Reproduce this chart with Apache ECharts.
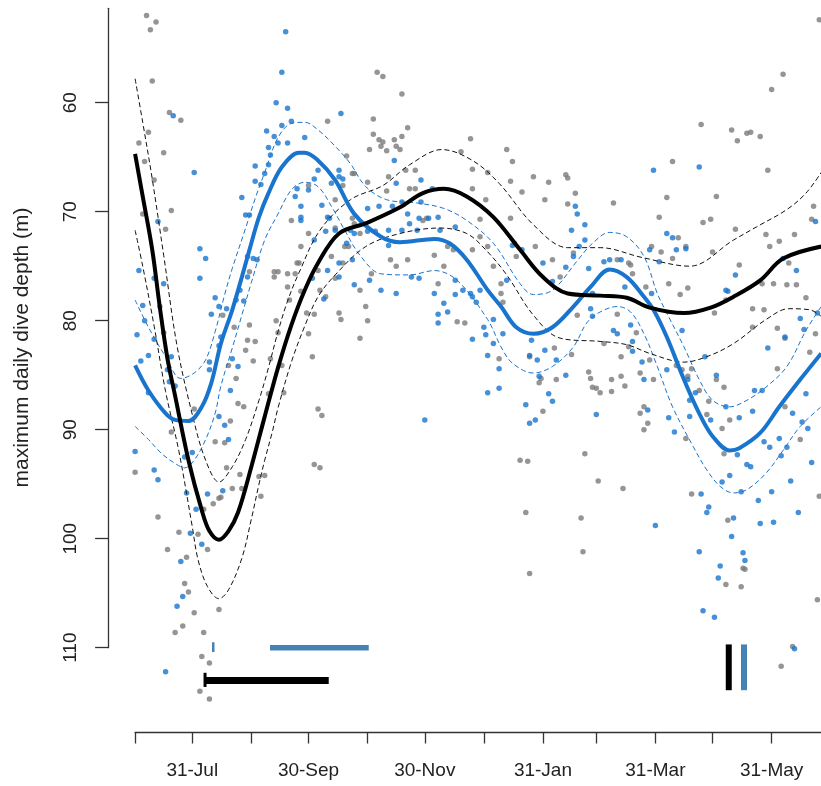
<!DOCTYPE html>
<html><head><meta charset="utf-8">
<script src="https://cdn.jsdelivr.net/npm/echarts@6/dist/echarts.min.js"></script>
<style>html,body{margin:0;padding:0;background:#fff}#c{width:821px;height:786px}</style>
</head><body><div id="c"></div>
<script>
// x = days since 30 June, y = maximum daily dive depth (m)
const tickDays = [1,31,62,92,123,153,184,215,243,274,304,335];
const labelDays = [31,92,153,215,274,335];
const labelNames = ['31-Jul','30-Sep','30-Nov','31-Jan','31-Mar','31-May'];
const yTicks = [60,70,80,90,100,110];

const grayPts = [[7,52.0],[9,53.3],[12,52.6],[10,58.0],[19,60.9],[25,61.6],[8,62.7],[3,63.7],[6,65.4],[11,67.1],[16,64.6],[20,69.9],[17,71.6],[5,70.2],[102,61.7],[112,64.9],[83,70.8],[88,73.2],[87,74.7],[92,72.0],[97,75.4],[106,71.5],[110,67.6],[115,70.6],[92,67.6],[106,68.9],[74,75.5],[81,75.7],[85,75.7],[104,74.1],[111,73.2],[115,66.5],
[14,78.7],[1,93.9],[13,98.0],[18,101.0],[24,99.4],[28,101.7],[27,104.1],[29,104.9],[32,106.8],[22,108.6],[26,108.0],[37,108.6],[45,106.5],[36,110.8],[40,111.4],[35,114.0],[40,114.7],[39,101.0],[34,99.6],[37,97.3],[42,96.8],[45,96.3],[46,96.2],[49,93.5],[52,95.4],[57,95.4],[56,94.1],[66,94.3],[69,94.2],[67,96.1],[43,91.1],[48,91.2],[51,89.2],[55,87.6],[58,87.9],[32,88.1],[20,90.2],[54,85.3],[50,84.1],[63,83.7],[59,82.7],[60,81.8],[64,81.9],[61,80.4],[53,80.6],[47,79.5],[72,83.5],[79,86.6],[71,86.7],[78,84.1],[76,81.1],[75,80.0],[82,78.1],[88,77.3],[81,76.9],[74,76.0],[76,75.5],[86,74.7],[91,79.3],[92,81.2],[94,83.3],[97,88.1],[99,88.7],[95,93.2],[98,93.5],[108,79.3],[109,79.9],[101,77.8],[106,76.1],[61,75.5],
[128,57.2],[131,57.6],[141,59.2],[126,61.5],[144,62.3],[124,64.3],[126,62.9],[129,63.4],[131,63.6],[130,64.0],[137,63.4],[141,63.1],[138,64.0],[133,64.4],[140,64.3],[116,66.5],[123,67.3],[134,66.8],[148,66.2],[143,66.2],[133,68.1],[145,67.9],[148,67.9],[154,70.6],[152,70.8],[172,64.5],[177,63.3],[196,64.3],[199,65.4],[178,66.1],[186,66.4],[198,67.2],[185,68.9],[182,70.7],[178,67.9],[204,68.2],[210,66.8],[218,67.3],[227,66.6],[228,66.9],[232,68.3],[216,68.9],[228,69.3],[252,69.2],[283,65.4],[298,62.0],[314,62.5],[317,63.5],[322,62.8],[324,62.7],[329,63.1],[333,66.2],[335,58.8],[341,57.4],[360,52.4],[280,68.7],[276,70.5],[306,68.6],[299,71.0],[303,70.7],[316,71.6],[332,72.1],[334,73.2],[339,72.7],[347,72.1],[357,69.5],[356,70.7],[286,72.4],[290,73.2],[283,74.3],[277,73.7],[272,73.2],[261,74.9],[262,75.7],[304,73.7],[318,74.9],[344,74.7],
[116,71.1],[119,72.0],[113,73.2],[110,74.7],[98,77.2],[119,77.2],[125,75.7],[135,74.4],[138,75.0],[144,74.4],[158,74.0],[163,75.0],[165,73.2],[168,73.5],[178,73.5],[182,72.3],[186,73.2],[189,75.0],[193,76.6],[198,70.6],[200,72.9],[201,74.1],[211,73.2],[220,74.4],[224,76.0],[231,73.8],[254,74.4],[260,74.7],[269,76.9],[281,76.6],[291,77.0],[287,77.6],[330,76.6],[336,76.6],[343,76.7],[348,76.7],[353,77.9],[311,78.1],
[122,78.7],[119,81.6],[123,80.0],[95,79.4],[160,76.6],[170,80.1],[174,80.2],[193,77.5],[194,78.3],[192,83.5],[208,83.3],[214,85.3],[213,85.7],[222,85.4],[215,88.3],[221,82.5],[230,83.1],[233,79.5],[239,84.7],[240,85.3],[241,86.1],[243,86.2],[245,86.6],[251,85.4],[251,86.5],[256,85.1],[258,86.0],[256,83.3],[247,82.1],[254,79.4],[260,82.4],[266,84.8],[268,87.9],[266,88.5],[270,89.4],[268,90.0],[271,83.6],[273,85.4],[264,81.1],[285,84.1],[291,85.1],[288,84.5],[293,84.4],[297,86.4],[302,87.4],[306,85.4],[310,86.1],[305,79.3],[313,89.1],[309,89.9],[301,88.6],[290,90.8],[310,92.2],[325,78.9],[331,79.0],[325,80.6],[338,80.7],[342,81.6],[338,84.4],[342,87.9],[350,90.9],[355,82.9],[358,81.2],[360,96.1],[203,92.8],[207,92.9],[237,92.2],[244,94.7],[257,95.4],[206,97.6],[235,98.1],[236,101.2],[208,103.2],[312,98.3],[320,102.7],[293,95.9],[311,104.2],[319,104.4],[321,102.8],[346,109.9],[340,111.7],[359,105.6]];

const bluePts = [[21,61.2],[32,66.4],[13,70.9],[3,75.4],[35,73.4],[38,74.3],[80,53.5],[78,57.2],[75,60.0],[81,60.5],[83,61.7],[78,62.1],[70,62.6],[74,63.1],[76,63.7],[81,63.7],[71,64.1],[90,63.2],[72,64.8],[64,65.8],[69,66.5],[64,67.2],[67,67.5],[71,65.7],[57,68.7],[59,70.3],[61,70.3],[60,74.1],[63,74.3],[97,66.2],[108,66.2],[109,61.0],[86,67.9],[85,68.6],[88,69.5],[88,70.5],[102,70.5],[99,69.4],[108,66.8],[110,67.0],[104,67.4],[92,68.0],[101,71.8],[102,75.4],[108,74.7],[112,72.9],[115,74.4],[116,72.0],[94,76.1],[35,76.1],[11,76.1],
[2,81.3],[5,78.6],[6,80.0],[11,81.7],[8,83.2],[4,83.7],[8,86.6],[16,81.1],[16,76.6],[18,84.5],[19,85.6],[22,86.0],[20,83.3],[1,92.0],[11,93.7],[13,94.6],[27,92.5],[31,92.1],[28,95.8],[33,97.3],[39,95.9],[47,95.6],[36,100.5],[30,99.5],[25,102.1],[26,105.3],[23,106.2],[17,112.2],[40,83.8],[45,82.3],[43,77.9],[41,79.4],[45,78.7],[54,78.1],[56,77.2],[58,78.2],[52,83.5],[55,84.2],[51,86.4],[45,88.8],[48,89.6],[50,90.9],[40,84.5],[46,81.5],[49,78.9],[60,76.0],[65,74.4],[100,78.0],
[95,67.0],[137,65.3],[151,67.1],[138,67.4],[123,69.7],[129,69.5],[136,69.5],[141,69.1],[144,70.2],[145,71.1],[150,70.6],[155,70.6],[160,70.5],[151,69.1],[157,67.9],[169,71.4],[161,71.7],[149,71.7],[141,71.7],[134,71.7],[127,71.8],[123,71.8],[114,71.7],[106,71.7],[95,72.6],[88,70.8],[103,70.6],[134,73.1],[108,76.0],[116,76.7],[124,76.3],[130,77.2],[138,77.5],[146,76.0],[150,76.1],[158,77.5],[169,76.3],[173,77.2],[177,77.5],[182,77.2],[196,76.3],[199,73.1],[204,73.5],[215,74.7],[220,76.4],[227,75.1],[231,74.1],[234,73.2],[233,70.2],[232,69.5],[237,71.2],[230,71.7],[237,72.6],[247,74.6],[250,74.4],[256,74.4],[239,75.2],[241,77.5],[258,76.9],[273,66.2],[297,65.9],[271,73.5],[280,72.0],[283,72.4],[285,73.5],[276,74.6],[272,77.5],[316,75.8],[312,77.3],[341,74.3],[348,75.4],[358,70.9],[290,73.4],
[163,78.4],[160,79.4],[165,79.2],[160,80.2],[169,77.6],[178,77.8],[180,78.3],[184,80.6],[185,81.3],[178,81.7],[189,79.9],[189,82.1],[194,81.2],[186,83.2],[192,84.4],[186,86.6],[192,86.2],[153,89.1],[208,83.2],[212,83.6],[216,82.7],[222,83.6],[209,81.8],[213,85.1],[227,85.0],[218,86.7],[220,87.4],[206,87.7],[208,89.4],[211,89.1],[243,88.6],[240,78.9],[241,79.6],[252,80.9],[254,81.2],[261,80.4],[262,81.9],[262,82.8],[267,83.8],[268,85.4],[270,88.2],[280,84.5],[281,88.9],[284,90.2],[291,85.4],[292,87.3],[295,86.6],[292,88.8],[288,80.9],[300,83.3],[311,77.2],[306,85.0],[303,89.1],[318,88.9],[325,88.3],[311,87.9],[326,86.4],[330,86.4],[333,82.5],[342,81.5],[350,79.8],[352,80.8],[359,79.3],[353,86.7],[331,91.1],[334,91.6],[339,90.8],[343,91.6],[340,92.4],[346,88.5],[351,89.3],[354,89.9],[356,93.0],[345,94.7],[335,95.7],[328,96.5],[322,93.2],[324,93.4],[313,94.2],[309,94.8],[319,95.7],[317,92.3],[298,95.9],[302,97.1],[301,97.6],[315,98.1],[314,99.8],[329,98.6],[336,98.5],[349,97.6],[308,102.5],[307,103.6],[320,101.3],[321,102.0],[297,101.2],[274,98.8],[299,106.6],[305,107.2],[347,110.1]];

const blackFit = [[1,64.7],[5,68.6],[10,73.5],[14,78.8],[18,83.5],[22,86.9],[29,92.8],[36,97.4],[40,99.3],[45,100.1],[50,99.3],[55,97.6],[62,93.4],[69,88.8],[76,84.3],[83,80.4],[90,77.2],[97,74.7],[108,72.0],[123,71.0],[140,69.6],[152,68.3],[163,67.9],[175,68.6],[189,70.5],[203,73.5],[215,76.0],[228,77.5],[245,77.7],[259,77.9],[271,78.8],[289,79.3],[303,78.8],[315,77.8],[329,76.3],[341,74.3],[361,73.2]];
const blackUpper = [[1,57.8],[5,61.8],[10,67.0],[16,74.0],[23,82.3],[31,88.6],[38,92.8],[45,94.8],[52,93.4],[59,90.9],[66,87.3],[71,84.3],[76,81.0],[81,78.2],[87,75.6],[98,71.7],[114,68.9],[131,67.6],[145,65.7],[162,64.3],[178,65.3],[192,67.4],[210,71.2],[228,73.3],[245,73.3],[267,74.2],[292,75.0],[315,72.6],[327,71.4],[343,69.8],[353,68.3],[361,66.4]];
const blackLower = [[1,71.7],[5,75.0],[11,80.5],[17,86.5],[24,92.0],[31,98.9],[34,101.9],[39,104.4],[45,105.5],[50,104.7],[57,101.8],[62,98.2],[66,95.0],[69,92.8],[73,90.2],[76,88.0],[83,83.8],[90,80.5],[97,77.8],[106,75.8],[122,73.2],[140,72.0],[161,71.5],[175,72.0],[185,73.5],[196,75.8],[210,79.5],[224,81.6],[245,81.9],[259,82.2],[271,83.0],[289,83.8],[301,83.3],[315,82.1],[332,79.9],[344,78.9],[355,79.0],[361,79.6]];

const blueFit = [[1,84.1],[8,86.4],[17,88.5],[22,89.1],[29,89.2],[36,87.9],[41,85.7],[46,82.1],[52,79.0],[57,76.0],[61,73.5],[66,70.5],[71,68.3],[78,65.9],[87,64.6],[90,64.6],[97,65.3],[106,67.1],[116,70.2],[130,72.3],[140,72.8],[158,72.5],[166,72.9],[175,74.4],[186,77.2],[193,78.7],[201,80.6],[210,81.2],[220,80.6],[231,78.7],[240,76.9],[250,75.3],[259,76.0],[268,77.8],[273,79.0],[280,81.5],[289,85.4],[297,88.5],[304,90.6],[313,91.9],[318,91.7],[329,90.3],[339,87.9],[350,85.4],[361,83.0]];
const blueUpper = [[1,78.1],[8,80.6],[17,83.3],[25,85.3],[32,84.8],[38,83.6],[43,81.0],[48,77.6],[52,75.2],[59,71.5],[64,68.8],[69,66.4],[76,63.2],[83,61.9],[90,61.8],[97,62.5],[106,64.0],[114,65.6],[122,67.7],[133,68.9],[149,69.2],[163,69.7],[175,70.8],[189,72.9],[203,76.6],[210,77.6],[220,77.2],[233,74.5],[241,72.9],[250,71.9],[259,72.3],[268,74.1],[275,77.5],[280,79.3],[289,82.4],[297,85.4],[304,87.3],[313,87.9],[322,87.3],[332,86.1],[343,84.2],[353,80.9],[361,78.7]];
const blueLower = [[1,89.7],[8,90.9],[15,92.2],[22,93.1],[27,93.5],[32,92.8],[38,90.9],[43,88.5],[46,86.0],[52,82.5],[57,79.5],[62,76.5],[69,72.6],[76,70.2],[83,68.0],[90,67.3],[97,67.7],[104,69.5],[111,71.7],[119,74.0],[130,75.7],[145,75.8],[158,75.4],[170,76.3],[186,79.9],[193,82.4],[199,83.9],[210,84.8],[220,84.2],[231,82.4],[238,80.2],[245,79.2],[254,78.7],[261,79.2],[268,81.2],[275,84.2],[283,87.9],[294,91.6],[301,93.7],[308,95.2],[315,95.8],[322,95.5],[332,94.0],[341,91.9],[350,89.7],[361,87.9]];

// period markers at the bottom (day ranges and depth levels)
const blueRange = [71.8, 123.6], blueRangeDepth = 110.0;
const blueTickDay = 42.0, blueTickDepth = [109.5, 110.4];
const blackRange = [37.7, 102.6], blackRangeDepth = 113.0, blackCapDepth = [112.3, 113.6];
const blackEndDay = 312.5, blueEndDay = 320.5, endDepth = [109.7, 113.9];

const FONT = 'Liberation Sans, Arial, sans-serif';
const chart = echarts.init(document.getElementById('c'), null, {renderer:'canvas'});
const GRAY = '#7a7a7a', BLUE = '#1874CD', STEEL = '#4682B4';
const axisCol = '#333';

function lineS(data, color, width, type, z){
  return {type:'line', data, showSymbol:false, smooth:0.35, clip:false, z,
    lineStyle:{color, width, type}, silent:true};
}
function seg(data, color, width, z){
  return {type:'line', data, showSymbol:false, smooth:false, clip:false, z,
    lineStyle:{color, width, cap:'butt'}, silent:true};
}

chart.setOption({
  animation:false,
  backgroundColor:'#fff',
  grid:{left:135.1, right:0, top:8.3, bottom:138.3, containLabel:false},
  xAxis:{type:'value', min:1, max:360.9, offset:84.3,
    axisLine:{show:true, lineStyle:{color:axisCol, width:1.3}},
    axisTick:{show:true, length:11.5, customValues:tickDays, lineStyle:{color:axisCol, width:1.3}},
    axisLabel:{customValues:labelDays, formatter:v=>labelNames[labelDays.indexOf(Math.round(v))]||'',
      fontSize:19, color:'#222', fontFamily:FONT, margin:29},
    splitLine:{show:false}},
  yAxis:{type:'value', inverse:true, min:51.34, max:110, offset:27,
    axisLine:{show:true, lineStyle:{color:axisCol, width:1.3}},
    axisTick:{show:true, length:13, customValues:yTicks, lineStyle:{color:axisCol, width:1.3}},
    axisLabel:{customValues:yTicks, rotate:90, fontSize:19, color:'#222', fontFamily:FONT, margin:28},
    splitLine:{show:false}},
  graphic:[{type:'text', x:22.5, y:347.5, rotation:Math.PI/2,
    style:{text:'maximum daily dive depth (m)', fill:'#222', font:'21px '+FONT, align:'center', verticalAlign:'middle'}}],
  series:[
    {type:'scatter', data:grayPts, symbolSize:5.5, clip:false, itemStyle:{color:GRAY}, z:2, silent:true},
    {type:'scatter', data:bluePts, symbolSize:5.5, clip:false, itemStyle:{color:BLUE}, z:3, silent:true},
    lineS(blueUpper, BLUE, 1, [5,3], 4),
    lineS(blueLower, BLUE, 1, [5,3], 4),
    lineS(blackUpper, '#111', 1, [5,3], 5),
    lineS(blackLower, '#111', 1, [5,3], 5),
    lineS(blueFit, BLUE, 4, 'solid', 6),
    lineS(blackFit, '#000', 4, 'solid', 7),
    seg([[blueRange[0],blueRangeDepth],[blueRange[1],blueRangeDepth]], STEEL, 5.5, 8),
    seg([[blueTickDay,blueTickDepth[0]],[blueTickDay,blueTickDepth[1]]], STEEL, 2.5, 8),
    seg([[blackRange[0],blackRangeDepth],[blackRange[1],blackRangeDepth]], '#000', 7, 8),
    seg([[blackRange[0],blackCapDepth[0]],[blackRange[0],blackCapDepth[1]]], '#000', 3, 8),
    seg([[blackEndDay,endDepth[0]],[blackEndDay,endDepth[1]]], '#000', 6, 8),
    seg([[blueEndDay,endDepth[0]],[blueEndDay,endDepth[1]]], STEEL, 6, 8)
  ]
});
</script></body></html>
